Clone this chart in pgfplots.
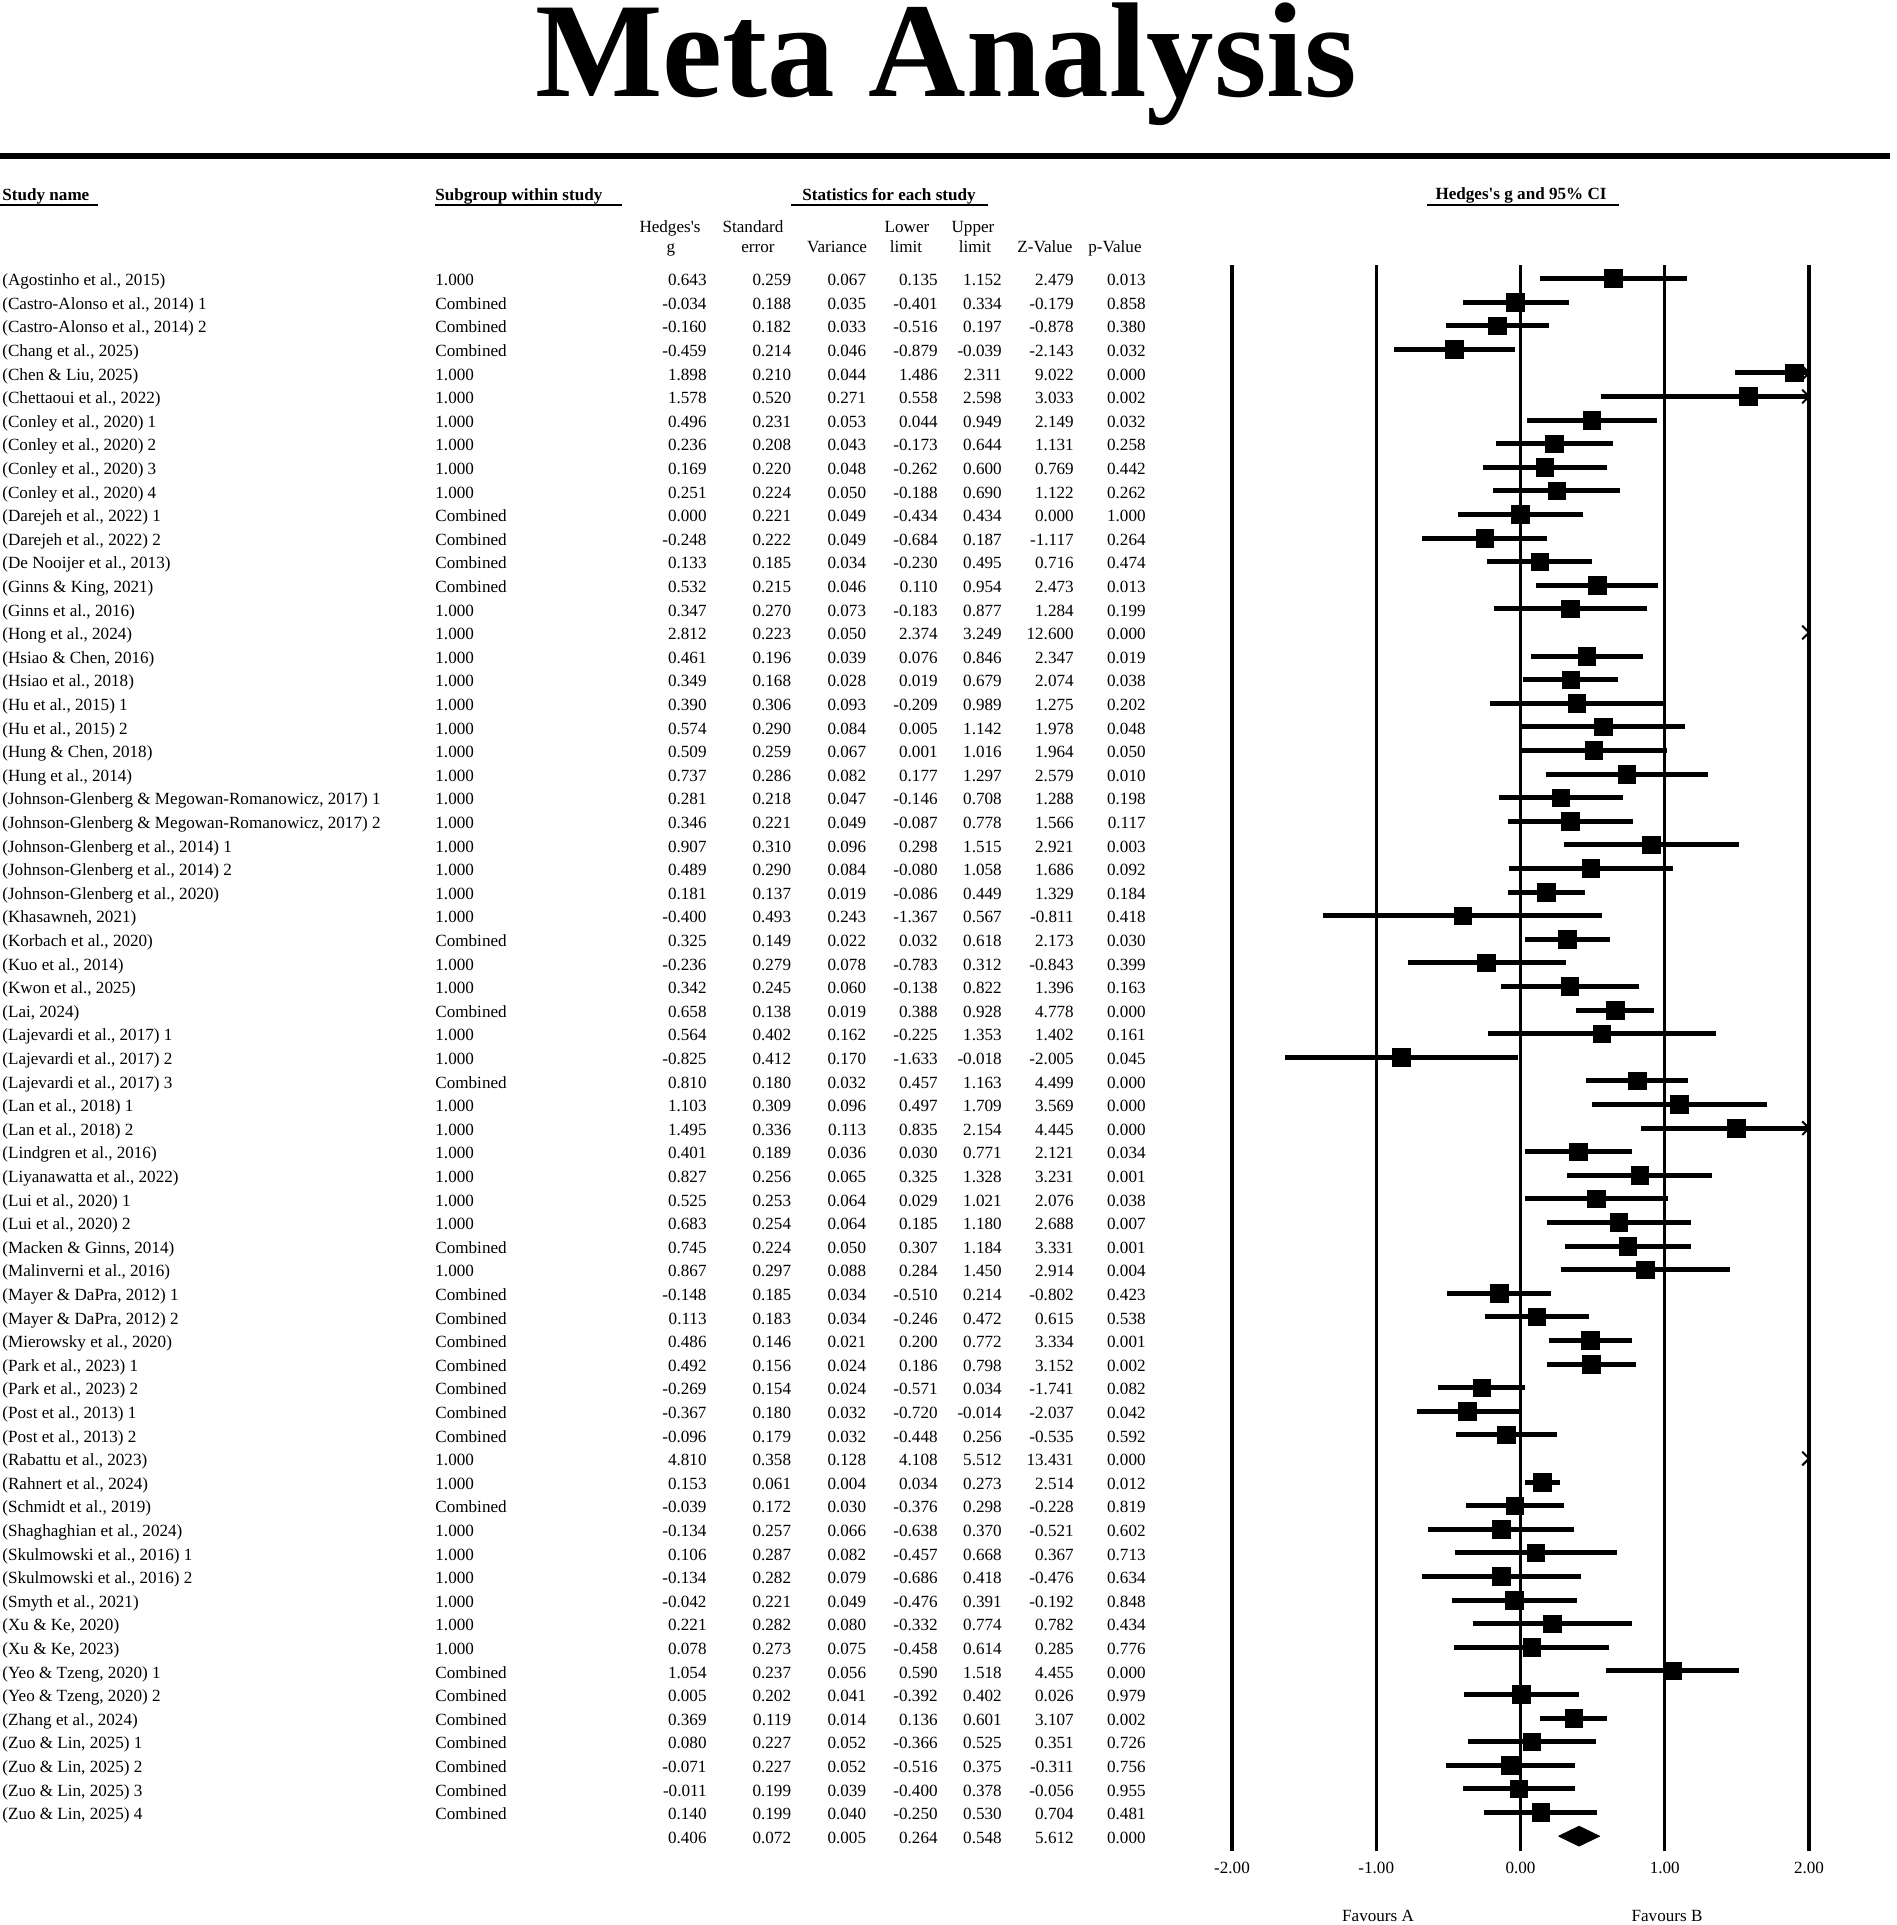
\documentclass[border=0pt]{standalone}
\usepackage{fontspec}
\setmainfont{Liberation Serif}
\usepackage{pgfplots}
\usepackage{pgfplotstable}
\pgfplotsset{compat=1.18}

\newcommand\fs{\fontsize{8.55}{10}\selectfont}

% open arrow head at the clipped end of a CI
\pgfdeclareplotmark{chev}{%
  \pgfpathmoveto{\pgfqpoint{-\pgfplotmarksize}{\pgfplotmarksize}}%
  \pgfpathlineto{\pgfqpoint{0pt}{0pt}}%
  \pgfpathlineto{\pgfqpoint{-\pgfplotmarksize}{-\pgfplotmarksize}}%
  \pgfusepathqstroke}

\pgfplotstableread[col sep=semicolon]{
row;name;sub;g;se;var;lo;hi;z;p
1;(Agostinho et al., 2015);1.000;0.643;0.259;0.067;0.135;1.152;2.479;0.013
2;(Castro-Alonso et al., 2014) 1;Combined;-0.034;0.188;0.035;-0.401;0.334;-0.179;0.858
3;(Castro-Alonso et al., 2014) 2;Combined;-0.160;0.182;0.033;-0.516;0.197;-0.878;0.380
4;(Chang et al., 2025);Combined;-0.459;0.214;0.046;-0.879;-0.039;-2.143;0.032
5;(Chen \& Liu, 2025);1.000;1.898;0.210;0.044;1.486;2.311;9.022;0.000
6;(Chettaoui et al., 2022);1.000;1.578;0.520;0.271;0.558;2.598;3.033;0.002
7;(Conley et al., 2020) 1;1.000;0.496;0.231;0.053;0.044;0.949;2.149;0.032
8;(Conley et al., 2020) 2;1.000;0.236;0.208;0.043;-0.173;0.644;1.131;0.258
9;(Conley et al., 2020) 3;1.000;0.169;0.220;0.048;-0.262;0.600;0.769;0.442
10;(Conley et al., 2020) 4;1.000;0.251;0.224;0.050;-0.188;0.690;1.122;0.262
11;(Darejeh et al., 2022) 1;Combined;0.000;0.221;0.049;-0.434;0.434;0.000;1.000
12;(Darejeh et al., 2022) 2;Combined;-0.248;0.222;0.049;-0.684;0.187;-1.117;0.264
13;(De Nooijer et al., 2013);Combined;0.133;0.185;0.034;-0.230;0.495;0.716;0.474
14;(Ginns \& King, 2021);Combined;0.532;0.215;0.046;0.110;0.954;2.473;0.013
15;(Ginns et al., 2016);1.000;0.347;0.270;0.073;-0.183;0.877;1.284;0.199
16;(Hong et al., 2024);1.000;2.812;0.223;0.050;2.374;3.249;12.600;0.000
17;(Hsiao \& Chen, 2016);1.000;0.461;0.196;0.039;0.076;0.846;2.347;0.019
18;(Hsiao et al., 2018);1.000;0.349;0.168;0.028;0.019;0.679;2.074;0.038
19;(Hu et al., 2015) 1;1.000;0.390;0.306;0.093;-0.209;0.989;1.275;0.202
20;(Hu et al., 2015) 2;1.000;0.574;0.290;0.084;0.005;1.142;1.978;0.048
21;(Hung \& Chen, 2018);1.000;0.509;0.259;0.067;0.001;1.016;1.964;0.050
22;(Hung et al., 2014);1.000;0.737;0.286;0.082;0.177;1.297;2.579;0.010
23;(Johnson-Glenberg \& Megowan-Romanowicz, 2017) 1;1.000;0.281;0.218;0.047;-0.146;0.708;1.288;0.198
24;(Johnson-Glenberg \& Megowan-Romanowicz, 2017) 2;1.000;0.346;0.221;0.049;-0.087;0.778;1.566;0.117
25;(Johnson-Glenberg et al., 2014) 1;1.000;0.907;0.310;0.096;0.298;1.515;2.921;0.003
26;(Johnson-Glenberg et al., 2014) 2;1.000;0.489;0.290;0.084;-0.080;1.058;1.686;0.092
27;(Johnson-Glenberg et al., 2020);1.000;0.181;0.137;0.019;-0.086;0.449;1.329;0.184
28;(Khasawneh, 2021);1.000;-0.400;0.493;0.243;-1.367;0.567;-0.811;0.418
29;(Korbach et al., 2020);Combined;0.325;0.149;0.022;0.032;0.618;2.173;0.030
30;(Kuo et al., 2014);1.000;-0.236;0.279;0.078;-0.783;0.312;-0.843;0.399
31;(Kwon et al., 2025);1.000;0.342;0.245;0.060;-0.138;0.822;1.396;0.163
32;(Lai, 2024);Combined;0.658;0.138;0.019;0.388;0.928;4.778;0.000
33;(Lajevardi et al., 2017) 1;1.000;0.564;0.402;0.162;-0.225;1.353;1.402;0.161
34;(Lajevardi et al., 2017) 2;1.000;-0.825;0.412;0.170;-1.633;-0.018;-2.005;0.045
35;(Lajevardi et al., 2017) 3;Combined;0.810;0.180;0.032;0.457;1.163;4.499;0.000
36;(Lan et al., 2018) 1;1.000;1.103;0.309;0.096;0.497;1.709;3.569;0.000
37;(Lan et al., 2018) 2;1.000;1.495;0.336;0.113;0.835;2.154;4.445;0.000
38;(Lindgren et al., 2016);1.000;0.401;0.189;0.036;0.030;0.771;2.121;0.034
39;(Liyanawatta et al., 2022);1.000;0.827;0.256;0.065;0.325;1.328;3.231;0.001
40;(Lui et al., 2020) 1;1.000;0.525;0.253;0.064;0.029;1.021;2.076;0.038
41;(Lui et al., 2020) 2;1.000;0.683;0.254;0.064;0.185;1.180;2.688;0.007
42;(Macken \& Ginns, 2014);Combined;0.745;0.224;0.050;0.307;1.184;3.331;0.001
43;(Malinverni et al., 2016);1.000;0.867;0.297;0.088;0.284;1.450;2.914;0.004
44;(Mayer \& DaPra, 2012) 1;Combined;-0.148;0.185;0.034;-0.510;0.214;-0.802;0.423
45;(Mayer \& DaPra, 2012) 2;Combined;0.113;0.183;0.034;-0.246;0.472;0.615;0.538
46;(Mierowsky et al., 2020);Combined;0.486;0.146;0.021;0.200;0.772;3.334;0.001
47;(Park et al., 2023) 1;Combined;0.492;0.156;0.024;0.186;0.798;3.152;0.002
48;(Park et al., 2023) 2;Combined;-0.269;0.154;0.024;-0.571;0.034;-1.741;0.082
49;(Post et al., 2013) 1;Combined;-0.367;0.180;0.032;-0.720;-0.014;-2.037;0.042
50;(Post et al., 2013) 2;Combined;-0.096;0.179;0.032;-0.448;0.256;-0.535;0.592
51;(Rabattu et al., 2023);1.000;4.810;0.358;0.128;4.108;5.512;13.431;0.000
52;(Rahnert et al., 2024);1.000;0.153;0.061;0.004;0.034;0.273;2.514;0.012
53;(Schmidt et al., 2019);Combined;-0.039;0.172;0.030;-0.376;0.298;-0.228;0.819
54;(Shaghaghian et al., 2024);1.000;-0.134;0.257;0.066;-0.638;0.370;-0.521;0.602
55;(Skulmowski et al., 2016) 1;1.000;0.106;0.287;0.082;-0.457;0.668;0.367;0.713
56;(Skulmowski et al., 2016) 2;1.000;-0.134;0.282;0.079;-0.686;0.418;-0.476;0.634
57;(Smyth et al., 2021);1.000;-0.042;0.221;0.049;-0.476;0.391;-0.192;0.848
58;(Xu \& Ke, 2020);1.000;0.221;0.282;0.080;-0.332;0.774;0.782;0.434
59;(Xu \& Ke, 2023);1.000;0.078;0.273;0.075;-0.458;0.614;0.285;0.776
60;(Yeo \& Tzeng, 2020) 1;Combined;1.054;0.237;0.056;0.590;1.518;4.455;0.000
61;(Yeo \& Tzeng, 2020) 2;Combined;0.005;0.202;0.041;-0.392;0.402;0.026;0.979
62;(Zhang et al., 2024);Combined;0.369;0.119;0.014;0.136;0.601;3.107;0.002
63;(Zuo \& Lin, 2025) 1;Combined;0.080;0.227;0.052;-0.366;0.525;0.351;0.726
64;(Zuo \& Lin, 2025) 2;Combined;-0.071;0.227;0.052;-0.516;0.375;-0.311;0.756
65;(Zuo \& Lin, 2025) 3;Combined;-0.011;0.199;0.039;-0.400;0.378;-0.056;0.955
66;(Zuo \& Lin, 2025) 4;Combined;0.140;0.199;0.040;-0.250;0.530;0.704;0.481
67;{};{};0.406;0.072;0.005;0.264;0.548;5.612;0.000
}\studies

\pgfplotsset{
  txt/.style={draw=none, mark=none, text=black, nodes near coords,
    point meta=explicit symbolic,
    every node near coord/.append style={font=\fs, inner sep=0pt, anchor=#1, yshift=-1.3pt}},
}

\begin{document}
\begin{tikzpicture}
\path[use as bounding box] (0pt,0pt) rectangle (948pt,-962.5pt);

% headers, in pixel units of the reference
\begin{scope}[x=0.5pt, y=-0.5pt]
  \node[anchor=base, inner sep=0pt, font=\bfseries\fontsize{67.5}{70}\selectfont] at (946,97) {Meta Analysis};
  \draw[line width=2.7pt] (0,156) -- (1890,156);

  \node[anchor=mid west, inner sep=0pt, font=\fs\bfseries] at (2,196) {Study name};
  \node[anchor=mid west, inner sep=0pt, font=\fs\bfseries] at (435,196) {Subgroup within study};
  \node[anchor=mid, inner sep=0pt, font=\fs\bfseries] at (889,196) {Statistics for each study};
  \node[anchor=mid, inner sep=0pt, font=\fs\bfseries] at (1521,195) {Hedges\textquotesingle s g and 95\% CI};
  \draw[line width=1pt] (0,205) -- (98,205);
  \draw[line width=1pt] (435,205) -- (622,205);
  \draw[line width=1pt] (791,205) -- (988,205);
  \draw[line width=1pt] (1427,205) -- (1619,205);

  \begin{scope}[every node/.style={anchor=mid, inner sep=0pt, font=\fs}]
    \node at (670,228) {Hedges\textquotesingle s};
    \node at (753,228) {Standard};
    \node at (907,228) {Lower};
    \node at (973,228) {Upper};
    \node at (671,248) {g};
    \node at (758,248) {error};
    \node at (837,248) {Variance};
    \node at (906,248) {limit};
    \node at (975,248) {limit};
    \node at (1045,248) {Z-Value};
    \node at (1115,248) {p-Value};
    \node at (1378,1917) {Favours A};
    \node at (1667,1917) {Favours B};
  \end{scope}
\end{scope}

\begin{axis}[
  at={(616pt,-925.5pt)}, anchor=south west,
  scale only axis, width=288.5pt, height=793pt,
  xmin=-2, xmax=2, ymin=0.428, ymax=67.63, y dir=reverse,
  clip=false,
  axis line style={draw=none},
  ytick=\empty,
  xtick={-2,-1,0,1,2},
  xticklabels={-2.00,-1.00,0.00,1.00,2.00},
  major tick style={draw=none},
  xmajorgrids, grid style={black, line width=1.7pt},
  xticklabel style={font=\fs, yshift=-2pt},
]
  % table columns
  \addplot[txt=mid west] table[x expr=-10.527, y=row, meta=name]{\studies};
  \addplot[txt=mid west] table[x expr=-7.525, y=row, meta=sub]{\studies};
  \addplot[txt=mid east] table[x expr=-5.640, y=row, meta=g]{\studies};
  \addplot[txt=mid east] table[x expr=-5.054, y=row, meta=se]{\studies};
  \addplot[txt=mid east] table[x expr=-4.534, y=row, meta=var]{\studies};
  \addplot[txt=mid east] table[x expr=-4.038, y=row, meta=lo]{\studies};
  \addplot[txt=mid east] table[x expr=-3.594, y=row, meta=hi]{\studies};
  \addplot[txt=mid east] table[x expr=-3.095, y=row, meta=z]{\studies};
  \addplot[txt=mid east] table[x expr=-2.596, y=row, meta=p]{\studies};

  % effect sizes with 95% CI, cut at the edge of the scale
  \addplot[only marks, mark=square*, mark size=4.4pt, black,
    restrict x to domain=-2:2, skip coords between index={66}{67},
    error bars/.cd, x dir=both, x explicit, error mark=none,
    error bar style={line width=2.5pt, black}]
    table[x=g, y=row,
      x error minus expr={\thisrow{g}-\thisrow{lo}},
      x error plus expr={min(\thisrow{hi},2)-\thisrow{g}}]{\studies};

  % arrow heads where the upper limit is beyond 2
  \addplot[only marks, mark=chev, mark size=3.4pt, black, line width=1pt,
    restrict x to domain=1.999:3]
    table[x expr={min(\thisrow{hi},2)}, y=row]{\studies};

  % summary diamond
  \addplot[fill=black, draw=black, line width=0.4pt, line join=round]
    coordinates {(0.264,67) (0.406,66.58) (0.548,67) (0.406,67.42) (0.264,67)};
\end{axis}
\end{tikzpicture}
\end{document}
